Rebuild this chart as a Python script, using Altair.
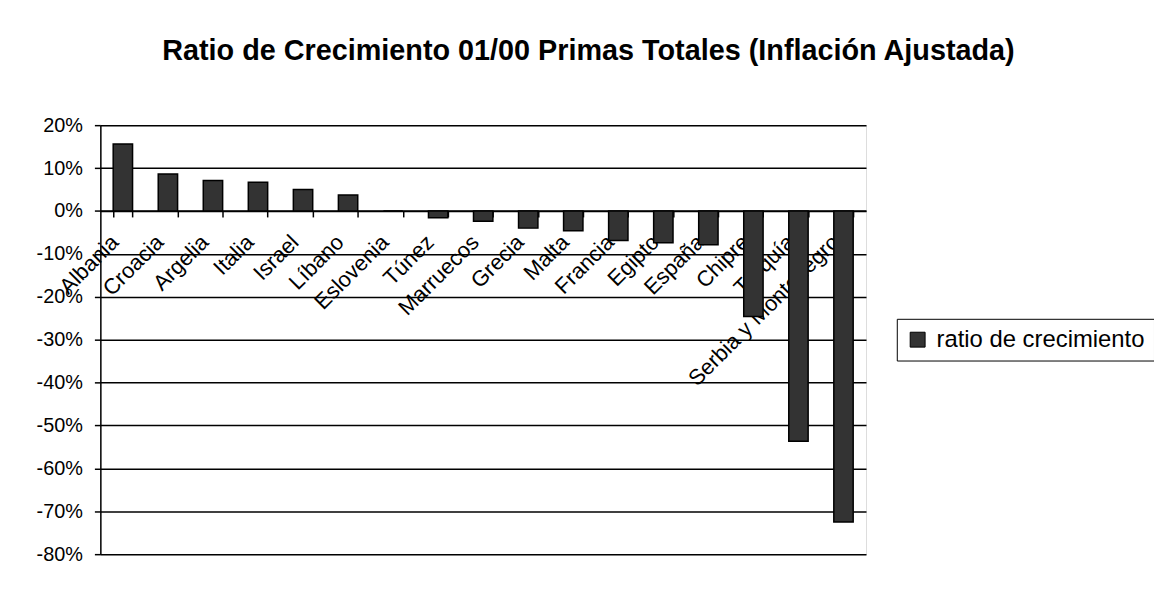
import altair as alt
import pandas as pd

paises = ["Albania", "Croacia", "Argelia", "Italia", "Israel", "Líbano", "Eslovenia",
          "Túnez", "Marruecos", "Grecia", "Malta", "Francia", "Egipto", "España",
          "Chipre", "Turquía", "Serbia y Montenegro"]
ratios = [0.156, 0.086, 0.071, 0.067, 0.050, 0.037, 0.000, -0.016, -0.024, -0.040,
          -0.046, -0.069, -0.074, -0.079, -0.246, -0.537, -0.725]
serie = "ratio de crecimiento"
y_ticks = [0.2, 0.1, 0.0, -0.1, -0.2, -0.3, -0.4, -0.5, -0.6, -0.7, -0.8]
titulo = "Ratio de Crecimiento 01/00 Primas Totales (Inflación Ajustada)"

df = pd.DataFrame({"pais": paises, "ratio": ratios, "serie": serie})

FONT = "Liberation Sans"

chart = alt.Chart(df).mark_bar(stroke="black", strokeWidth=1.5).encode(
    x=alt.X("pais:N", sort=paises,
            scale=alt.Scale(paddingInner=0.57, paddingOuter=0.285),
            axis=alt.Axis(title=None, labelAngle=-45, labelAlign="right", labelBaseline="bottom",
                          labelFontSize=22, labelFont=FONT, labelColor="black",
                          labelLimit=400, labelOverlap=False,
                          tickBand="extent", tickColor="black", tickSize=6, tickWidth=1.5,
                          domainColor="black", domainWidth=1.5, offset=-345.6,
                          labelPadding=30, grid=False)),
    y=alt.Y("ratio:Q",
            scale=alt.Scale(domain=[-0.8, 0.2], nice=False, zero=False),
            axis=alt.Axis(title=None, values=y_ticks,
                          labelExpr="round(datum.value*100) + '%'",
                          labelFontSize=20, labelFont=FONT, labelColor="black",
                          grid=True, gridColor="black", gridWidth=1.5,
                          domainColor="black", domainWidth=1.5,
                          tickColor="black", tickSize=6, tickWidth=1.5, labelPadding=12)),
    color=alt.Color("serie:N", scale=alt.Scale(range=["#333333"]),
                    legend=alt.Legend(title=None, orient="none", legendX=802, legendY=195,
                                      strokeColor="black", fillColor="white", padding=9,
                                      labelFontSize=24, labelFont=FONT, labelColor="black",
                                      labelLimit=400,
                                      symbolType="square", symbolSize=225,
                                      symbolStrokeColor="black", symbolStrokeWidth=1,
                                      labelOffset=7)),
).properties(
    width=771, height=432,
    autosize="none",
    padding={"left": 93, "top": 116, "right": 290, "bottom": 20},
    title=alt.Title(titulo, fontSize=29, fontWeight="bold", font=FONT, color="black",
                    anchor="middle", frame="group", dx=106, offset=50),
).configure_view(stroke="black", strokeWidth=1.5).configure(font=FONT, background="white")

chart.save("out.html", embed_options={"renderer": "svg", "actions": False})
